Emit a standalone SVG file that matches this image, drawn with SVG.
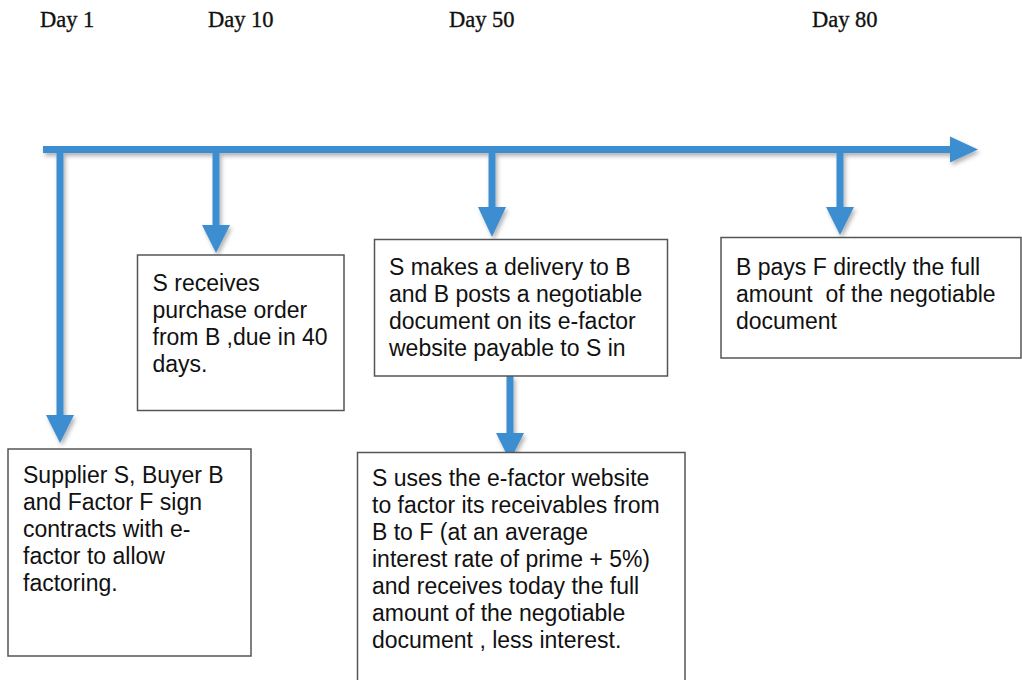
<svg xmlns="http://www.w3.org/2000/svg" width="1022" height="680" viewBox="0 0 1022 680">
<style>
.day{font-family:"Liberation Serif",serif;font-size:22.5px;fill:#111;stroke:#111;stroke-width:0.35}
.t{font-family:"Liberation Sans",Arial,sans-serif;font-size:23px;fill:#111}
.box{fill:#fff;stroke:#555;stroke-width:1.5}
.ln{stroke:#3E8ED0;stroke-width:7;fill:none}
.hd{fill:#3E8ED0}
</style>
<defs>
<filter id="sh" x="-20%" y="-20%" width="140%" height="140%">
<feDropShadow dx="2" dy="3" stdDeviation="2" flood-color="#000" flood-opacity="0.3"/>
</filter>
</defs>
<rect width="1022" height="680" fill="#fff"/>
<g id="labels">
<text class="day" x="40" y="27">Day 1</text>
<text class="day" x="208" y="27">Day 10</text>
<text class="day" x="449" y="27">Day 50</text>
<text class="day" x="812" y="27">Day 80</text>
</g>
<g id="connectors" filter="url(#sh)">
<line class="ln" x1="43" y1="149.5" x2="952" y2="149.5"/>
<polygon class="hd" points="950,136.5 978,149.5 950,162.5"/>
<line class="ln" x1="60" y1="149" x2="60" y2="417"/>
<polygon class="hd" points="46,415 74,415 60,443"/>
<line class="ln" x1="216" y1="149" x2="216" y2="227"/>
<polygon class="hd" points="202,225 230,225 216,253"/>
<line class="ln" x1="492" y1="149" x2="492" y2="209"/>
<polygon class="hd" points="478,207 506,207 492,237"/>
<line class="ln" x1="840" y1="149" x2="840" y2="209"/>
<polygon class="hd" points="826,207 854,207 840,235"/>
<line class="ln" x1="510" y1="376" x2="510" y2="435"/>
<polygon class="hd" points="496,433 524,433 510,461"/>
</g>
<g id="node-day1">
<rect class="box" x="8" y="449" width="243" height="207"/>
<text class="t"><tspan x="23" y="483">Supplier S, Buyer B</tspan><tspan x="23" y="510">and Factor F sign</tspan><tspan x="23" y="537">contracts with e-</tspan><tspan x="23" y="564">factor to allow</tspan><tspan x="23" y="591">factoring.</tspan></text>
</g>
<g id="node-day10">
<rect class="box" x="137.5" y="255" width="206.5" height="155.5"/>
<text class="t"><tspan x="152.5" y="291">S receives</tspan><tspan x="152.5" y="318">purchase order</tspan><tspan x="152.5" y="345">from B ,due in 40</tspan><tspan x="152.5" y="372">days.</tspan></text>
</g>
<g id="node-day50">
<rect class="box" x="374.5" y="239.5" width="293" height="136.5"/>
<text class="t"><tspan x="389" y="275">S makes a delivery to B</tspan><tspan x="389" y="302">and B posts a negotiable</tspan><tspan x="389" y="329">document on its e-factor</tspan><tspan x="389" y="356">website payable to S in</tspan></text>
</g>
<g id="node-factor">
<rect class="box" x="357.5" y="452.5" width="327.5" height="240"/>
<text class="t"><tspan x="372" y="486">S uses the e-factor website</tspan><tspan x="372" y="513">to factor its receivables from</tspan><tspan x="372" y="540">B to F (at an average</tspan><tspan x="372" y="567">interest rate of prime + 5%)</tspan><tspan x="372" y="594">and receives today the full</tspan><tspan x="372" y="621">amount of the negotiable</tspan><tspan x="372" y="648">document , less interest.</tspan></text>
</g>
<g id="node-day80">
<rect class="box" x="721" y="237.5" width="300" height="120.5"/>
<text class="t"><tspan x="736" y="275">B pays F directly the full</tspan><tspan x="736" y="302">amount &#160;of the negotiable</tspan><tspan x="736" y="329">document</tspan></text>
</g>
</svg>
